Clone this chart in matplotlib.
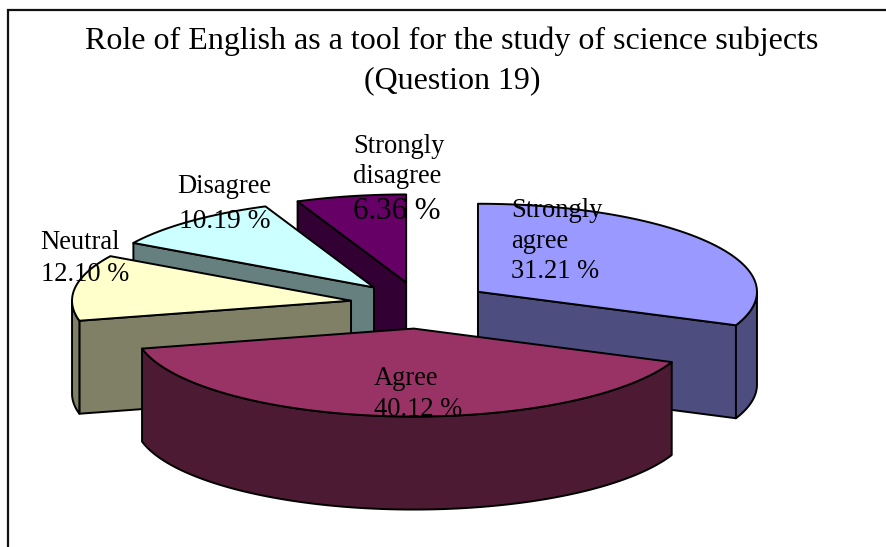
import numpy as np
import matplotlib
matplotlib.use("Agg")
import matplotlib.pyplot as plt
from matplotlib.patches import Polygon

# ---- data ----
categories = ["Strongly agree", "Agree", "Neutral", "Disagree", "Strongly disagree"]
values = [31.21, 40.12, 12.10, 10.19, 6.36]
explode = [0.25, 0.28, 0.25, 0.25, 0.25]
top_colors = ["#9999FF", "#993366", "#FFFFCC", "#CCFFFF", "#660066"]
side_colors = ["#4D4D80", "#4D1A33", "#808066", "#668080", "#330033"]
title_lines = ["Role of English as a tool for the study of science subjects", "(Question 19)"]
label_lines = [
    ["Strongly", "agree", "31.21 %"],
    ["Agree", "40.12 %"],
    ["Neutral", "12.10 %"],
    ["Disagree", "10.19 %"],
    ["Strongly", "disagree", "6.36 %"],
]

# ---- layout (pixels) ----
W, H = 886, 547
CX, CY, RX, RY, DEPTH = 420, 304, 279, 88, 93
FONT = "Liberation Serif"
PX = 0.72  # px -> pt at dpi 100
label_pos = [  # per line: x, baseline y, ha, font px
    [(511, 217, "left", 26.5), (511, 248, "left", 26.5), (511, 278, "left", 26.5)],
    [(374, 385, "left", 26.5), (374, 416, "left", 26.5)],
    [(40, 249, "left", 26.5), (41, 281, "left", 26.5)],
    [(177, 193, "left", 26.5), (179, 228, "left", 27.5)],
    [(353, 153, "left", 26.5), (353, 183, "left", 26.5), (353, 219, "left", 31)],
]

fig = plt.figure(figsize=(W / 100, H / 100), dpi=100, facecolor="white")
ax = fig.add_axes([0, 0, 1, 1])
ax.set_xlim(0, W)
ax.set_ylim(H, 0)
ax.axis("off")

# frame
ax.plot([8.5, 8.5, W], [H, 10, 10], color="#111111", lw=1.6, solid_joinstyle="miter", zorder=1)

LW = 1.4


def pt(apex, a):
    return apex[0] + RX * np.sin(a), apex[1] - RY * np.cos(a)


def poly(xy, color, z):
    ax.add_patch(Polygon(xy, closed=True, facecolor=color, edgecolor="black", lw=LW,
                         joinstyle="round", zorder=z))


fractions = np.array(values) / sum(values)
edges = np.concatenate([[0], np.cumsum(fractions)]) * 2 * np.pi
draw_order = [4, 3, 2, 0, 1]
z = 2
for i in draw_order:
    a0, a1 = edges[i], edges[i + 1]
    mid = (a0 + a1) / 2
    apex = (CX + explode[i] * RX * np.sin(mid), CY - explode[i] * RY * np.cos(mid))
    # flat cut faces that look towards the viewer
    for a, visible in ((a0, np.sin(a0) < -1e-6), (a1, -np.sin(a1) < -1e-6)):
        if visible:
            p = pt(apex, a)
            poly([apex, p, (p[0], p[1] + DEPTH), (apex[0], apex[1] + DEPTH)], side_colors[i], z)
            z += 1
    # curved rim, front half only
    r0, r1 = max(a0, np.pi / 2), min(a1, 3 * np.pi / 2)
    if r1 > r0:
        t = np.linspace(r0, r1, 120)
        xs, ys = pt(apex, t)
        upper = list(zip(xs, ys))
        lower = list(zip(xs, ys + DEPTH))[::-1]
        poly(upper + lower, side_colors[i], z)
        z += 1
    # top face
    t = np.linspace(a0, a1, 200)
    xs, ys = pt(apex, t)
    poly([apex] + list(zip(xs, ys)), top_colors[i], z)
    z += 1

# text
ax.text(452, 49, title_lines[0], family=FONT, fontsize=32 * PX, ha="center", va="baseline", color="black", zorder=50)
ax.text(452, 88, title_lines[1], family=FONT, fontsize=32 * PX, ha="center", va="baseline", color="black", zorder=50)
for lines, poss in zip(label_lines, label_pos):
    for s, (x, y, ha, px) in zip(lines, poss):
        ax.text(x, y, s, family=FONT, fontsize=px * PX, ha=ha, va="baseline", color="black", zorder=50)

fig.savefig("out.png", dpi=100, facecolor="white")
